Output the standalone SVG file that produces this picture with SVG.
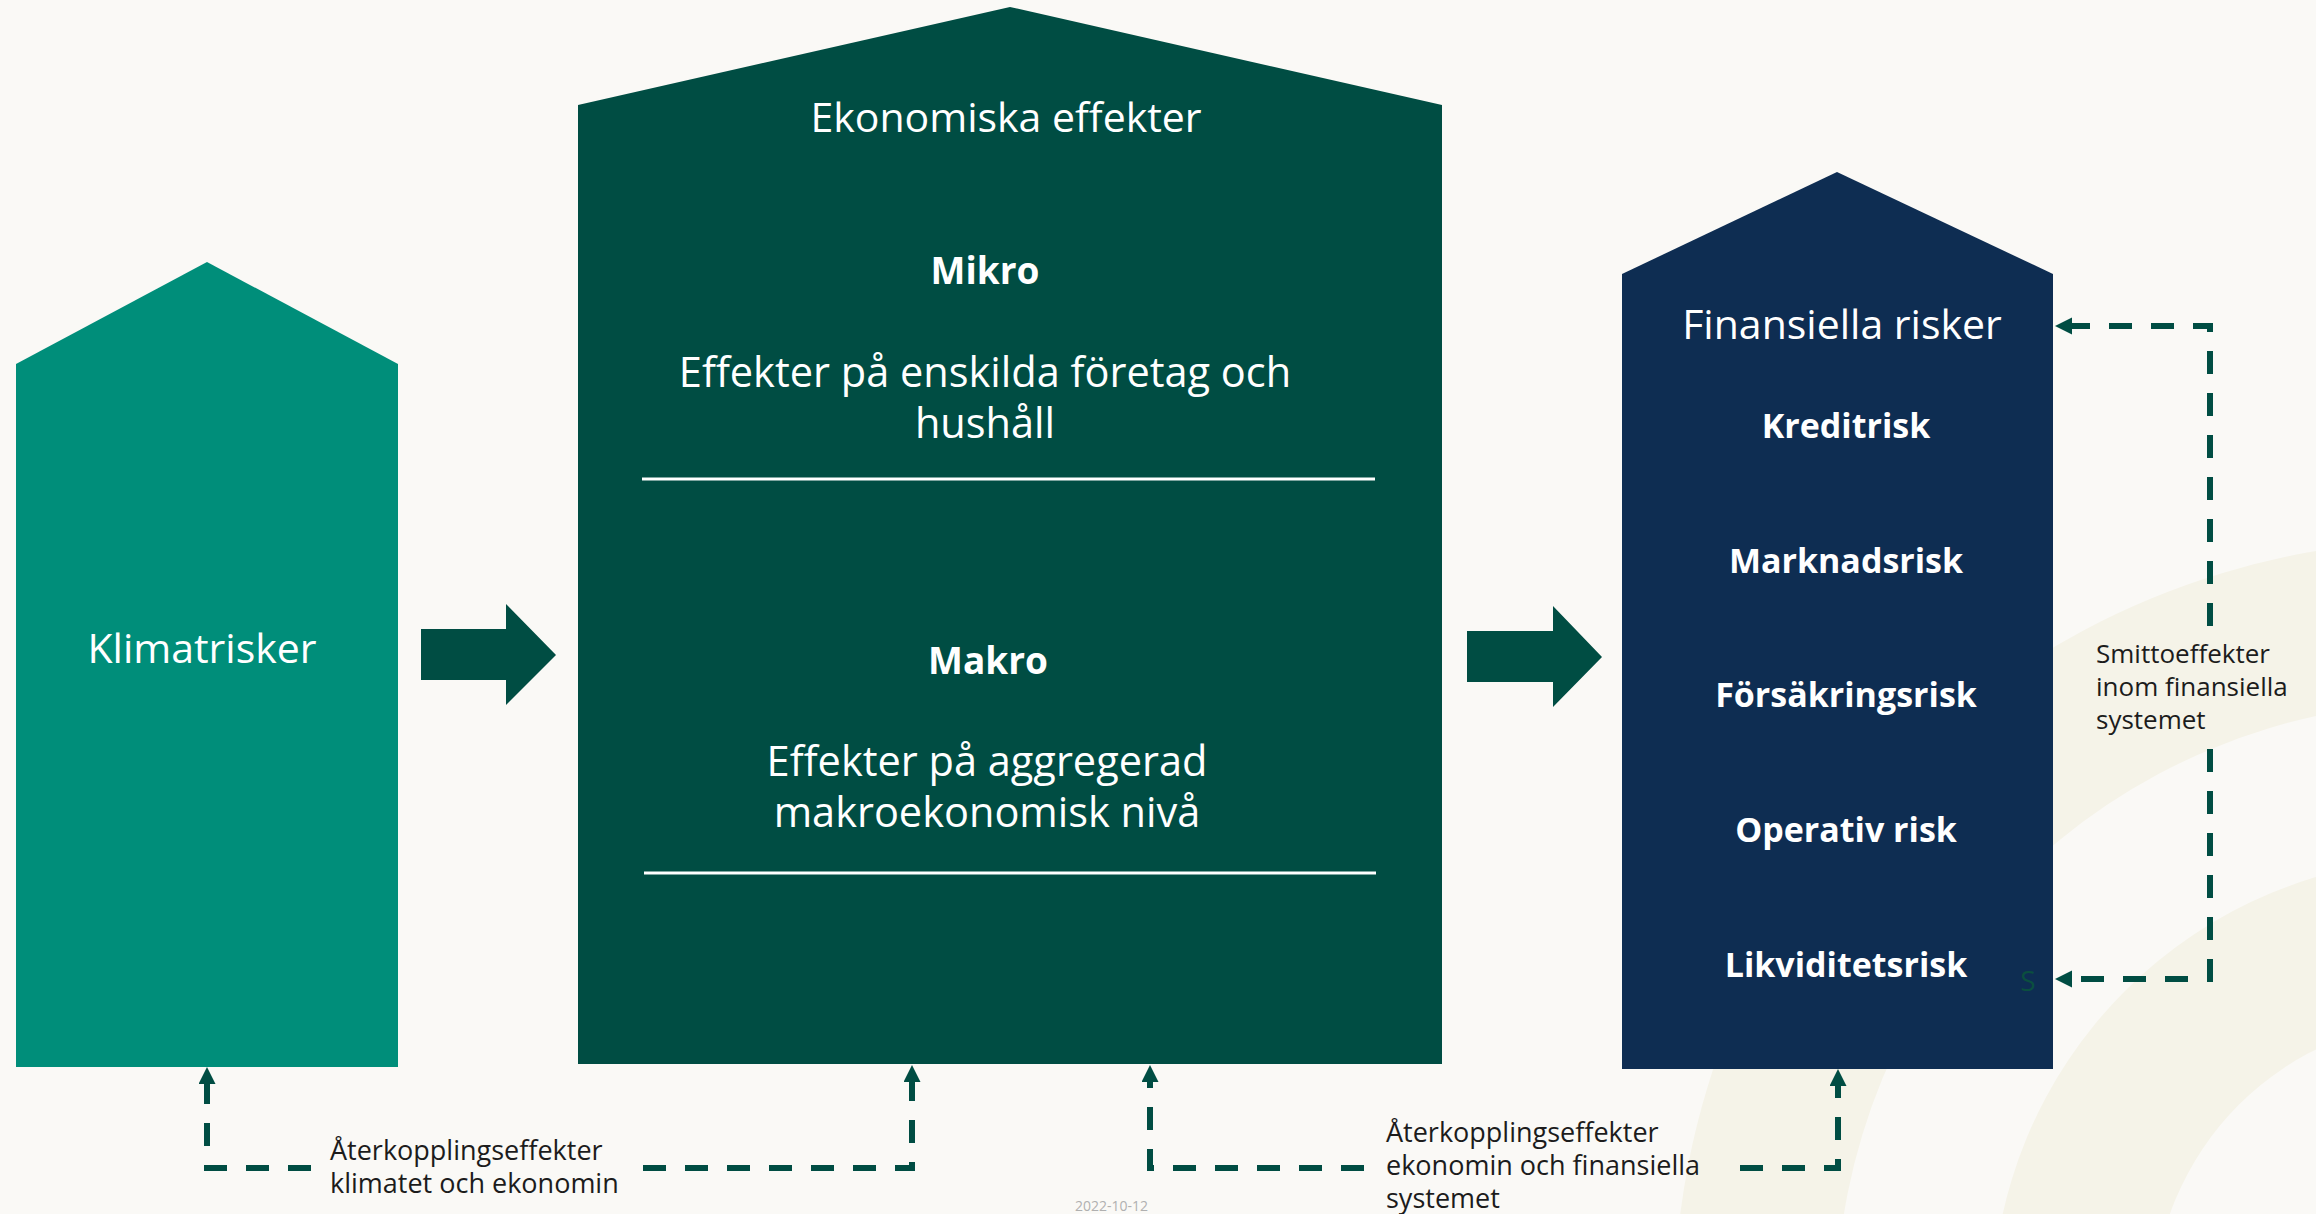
<svg xmlns="http://www.w3.org/2000/svg" width="2316" height="1214" viewBox="0 0 2316 1214">
  <style>
    .t { font-family: "Open Sans", "Liberation Sans", sans-serif; }
    .w { fill: #ffffff; }
    .title { font-size: 41px; }
    .body { font-size: 41.5px; }
    .bold { font-weight: 700; }
    .risk { font-size: 34px; font-weight: 700; fill: #ffffff; }
    .lbl { font-size: 26px; fill: #1c1c1c; }
    .lbl2 { font-size: 27px; fill: #1c1c1c; }
    .conn { fill: none; stroke: #004D43; stroke-width: 6; stroke-dasharray: 23 19; }
    .div { stroke: #ffffff; stroke-width: 3; }
  </style>
  <defs>
    <marker id="ah" markerUnits="userSpaceOnUse" markerWidth="18" markerHeight="18" refX="0" refY="8.5" orient="auto">
      <path d="M0,0 L17,8.5 L0,17 Z" fill="#004D43"/>
    </marker>
  </defs>

  <rect x="0" y="0" width="2316" height="1214" fill="#FAF9F6"/>
  <g id="background-arcs" fill="#F5F3E8">
    <path d="M2446,540 A772,772 0 0 0 1674,1312 L1836,1312 A610,610 0 0 1 2446,702 Z"/>
    <path d="M2446,858 A454,454 0 0 0 1992,1312 L2153,1312 A293,293 0 0 1 2446,1019 Z"/>
  </g>

  <g id="klimatrisker">
    <polygon points="16,364 207,262 398,364 398,1067 16,1067" fill="#008E7A"/>
    <text class="t w title" x="202" y="663" text-anchor="middle">Klimatrisker</text>
  </g>

  <g id="ekonomiska-effekter">
    <polygon points="578,105 1010,7 1442,105 1442,1064 578,1064" fill="#004D43"/>
    <text class="t w title" x="1006" y="132" text-anchor="middle">Ekonomiska effekter</text>
    <text class="t w bold" font-size="37" x="985" y="284" text-anchor="middle">Mikro</text>
    <text class="t w body" x="985" y="387" text-anchor="middle">Effekter på enskilda företag och</text>
    <text class="t w body" x="985" y="438" text-anchor="middle">hushåll</text>
    <line class="div" x1="642" y1="479" x2="1375" y2="479"/>
    <text class="t w bold" font-size="37" x="988" y="674" text-anchor="middle">Makro</text>
    <text class="t w body" x="987" y="776" text-anchor="middle">Effekter på aggregerad</text>
    <text class="t w body" x="987" y="827" text-anchor="middle">makroekonomisk nivå</text>
    <line class="div" x1="644" y1="873" x2="1376" y2="873"/>
  </g>

  <g id="finansiella-risker">
    <polygon points="1622,274 1837,172 2053,274 2053,1069 1622,1069" fill="#0E2D52"/>
    <text class="t w title" x="1842" y="339" text-anchor="middle">Finansiella risker</text>
    <text class="t risk" x="1846" y="438" text-anchor="middle">Kreditrisk</text>
    <text class="t risk" x="1846" y="573" text-anchor="middle">Marknadsrisk</text>
    <text class="t risk" x="1846" y="707" text-anchor="middle">Försäkringsrisk</text>
    <text class="t risk" x="1846" y="842" text-anchor="middle">Operativ risk</text>
    <text class="t risk" x="1846" y="977" text-anchor="middle">Likviditetsrisk</text>
    <text class="t" font-size="28" fill="#0B4F3F" x="2028" y="991" text-anchor="middle">S</text>
  </g>

  <g id="flow-arrows" fill="#004D43">
    <polygon points="421,629 506,629 506,604 556,655 506,705 506,680 421,680"/>
    <polygon points="1467,631 1553,631 1553,606 1602,657 1553,707 1553,682 1467,682"/>
  </g>

  <g id="connectors">
    <path class="conn" d="M311,1168 H207 V1084" marker-end="url(#ah)"/>
    <path class="conn" d="M643,1168 H912 V1082" marker-end="url(#ah)"/>
    <path class="conn" d="M1364,1168 H1150 V1082" marker-end="url(#ah)"/>
    <path class="conn" d="M1740,1168 H1838 V1086" marker-end="url(#ah)"/>
    <path class="conn" d="M2210,626 V326 H2072" marker-end="url(#ah)"/>
    <path class="conn" d="M2210,749 V979 H2072" marker-end="url(#ah)"/>
  </g>

  <g id="labels">
    <text class="t lbl" x="2096" y="663">Smittoeffekter</text>
    <text class="t lbl" x="2096" y="696">inom finansiella</text>
    <text class="t lbl" x="2096" y="729">systemet</text>
    <text class="t lbl2" x="330" y="1160">Återkopplingseffekter</text>
    <text class="t lbl2" x="330" y="1193">klimatet och ekonomin</text>
    <text class="t lbl2" x="1386" y="1142">Återkopplingseffekter</text>
    <text class="t lbl2" x="1386" y="1175">ekonomin och finansiella</text>
    <text class="t lbl2" x="1386" y="1208">systemet</text>
    <text class="t" font-size="14" fill="#B0B0B0" x="1075" y="1211">2022-10-12</text>
  </g>
</svg>
